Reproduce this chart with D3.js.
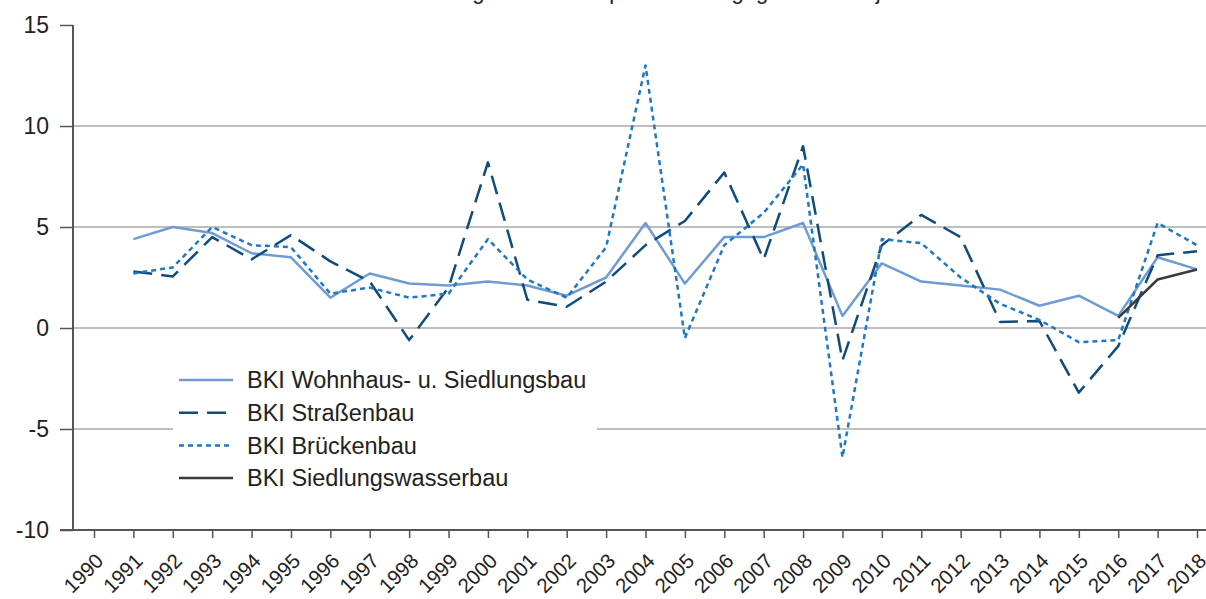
<!DOCTYPE html>
<html>
<head>
<meta charset="utf-8">
<script src="https://cdn.jsdelivr.net/npm/d3@7"></script>
<style>
  body { margin: 0; background: #fff; }
  svg { display: block; font-family: "Liberation Sans", Arial, sans-serif; }
</style>
</head>
<body>
<div id="chart"></div>
<script>
// years on the axis (1990 has no values)
var years = d3.range(1990, 2019);

var wohnhaus = [null, 4.4, 5.0, 4.7, 3.7, 3.5, 1.5, 2.7, 2.2, 2.1, 2.3, 2.1, 1.6, 2.5, 5.2, 2.2, 4.5, 4.5, 5.2, 0.6, 3.2, 2.3, 2.1, 1.9, 1.1, 1.6, 0.6, 3.5, 2.9];
var strassen = [null, 2.8, 2.55, 4.5, 3.4, 4.6, 3.3, 2.3, -0.6, 2.0, 8.2, 1.4, 1.05, 2.3, 4.1, 5.3, 7.7, 3.4, 9.0, -1.6, 4.1, 5.6, 4.5, 0.3, 0.35, -3.2, -0.9, 3.6, 3.8];
var bruecken = [null, 2.7, 3.0, 5.0, 4.1, 4.0, 1.7, 2.0, 1.5, 1.7, 4.4, 2.4, 1.5, 4.0, 13.0, -0.5, 4.1, 5.7, 8.1, -6.4, 4.4, 4.2, 2.5, 1.2, 0.4, -0.7, -0.6, 5.2, 4.1];
var wasser = [null, null, null, null, null, null, null, null, null, null, null, null, null, null, null, null, null, null, null, null, null, null, null, null, null, null, 0.5, 2.4, 2.9];

var yTicks = [-10, -5, 0, 5, 10, 15];
var gridValues = [10, 5, 0, -5];

var seriesNames = ["BKI Wohnhaus- u. Siedlungsbau", "BKI Straßenbau", "BKI Brückenbau", "BKI Siedlungswasserbau"];
var seriesColors = ["#6f9bd4", "#0f4c7c", "#1f78c2", "#3a3a3a"];
var seriesDash = [null, "19,9", "5,4", null];
var seriesData = [wohnhaus, strassen, bruecken, wasser];

var width = 1206, height = 599;

var svg = d3.select("#chart").append("svg")
    .attr("width", width)
    .attr("height", height);

var x = d3.scalePoint().domain(years).range([94, 1197]);
var y = d3.scaleLinear().domain([-10, 15]).range([530, 25]);

// title, cut off at the top edge like in the picture
svg.append("text")
    .attr("x", 660).attr("y", -1)
    .attr("text-anchor", "middle")
    .style("font-size", "22px")
    .style("fill", "#222")
    .text("Veränderung der BKI Baupreisindizes gegenüber Vorjahr in %");

// gridlines
svg.selectAll(".grid").data(gridValues).enter().append("line")
    .attr("class", "grid")
    .attr("x1", 73).attr("x2", width)
    .attr("y1", function(d){ return y(d); })
    .attr("y2", function(d){ return y(d); })
    .style("stroke", "#a8a8a8")
    .style("stroke-width", 1.5);

// y axis
var yAxis = svg.append("g")
    .attr("transform", "translate(73,0)")
    .call(d3.axisLeft(y).tickValues(yTicks).tickSize(13).tickSizeOuter(0).tickPadding(11)
        .tickFormat(function(d){ return String(d); }));
yAxis.select(".domain").remove();
yAxis.selectAll(".tick line").style("stroke", "#555").style("stroke-width", 1.5);
yAxis.selectAll(".tick text").style("font-size", "23px").style("fill", "#222")
    .style("font-family", "Liberation Sans, Arial, sans-serif");
svg.append("line").attr("x1", 73).attr("x2", 73).attr("y1", y(15)).attr("y2", y(-10))
    .style("stroke", "#555").style("stroke-width", 2);

// x axis
var xAxis = svg.append("g")
    .attr("transform", "translate(0," + y(-10) + ")")
    .call(d3.axisBottom(x).tickSize(8).tickSizeOuter(0));
xAxis.select(".domain").remove();
xAxis.selectAll(".tick line").style("stroke", "#555").style("stroke-width", 1.5);
xAxis.selectAll(".tick text")
    .style("font-size", "20.5px").style("fill", "#222")
    .style("font-family", "Liberation Sans, Arial, sans-serif")
    .attr("text-anchor", "end")
    .attr("x", 0).attr("y", 0)
    .attr("dy", "0.35em")
    .attr("transform", "translate(5,27) rotate(-45)");
svg.append("line").attr("x1", 60).attr("x2", width).attr("y1", y(-10)).attr("y2", y(-10))
    .style("stroke", "#555").style("stroke-width", 2);

// lines
var line = d3.line()
    .defined(function(d){ return d.v != null; })
    .x(function(d){ return x(d.year); })
    .y(function(d){ return y(d.v); });

seriesData.forEach(function(values, i){
    var pts = years.map(function(yr, k){ return {year: yr, v: values[k]}; });
    svg.append("path")
        .datum(pts)
        .attr("d", line)
        .style("fill", "none")
        .style("stroke", seriesColors[i])
        .style("stroke-width", 2.5)
        .style("stroke-dasharray", seriesDash[i])
        .style("stroke-linejoin", "round");
});

// legend with white box
var legend = svg.append("g");
legend.append("rect")
    .attr("x", 173).attr("y", 358).attr("width", 424).attr("height", 140)
    .style("fill", "#fff");

seriesNames.forEach(function(name, i){
    var ly = 380 + i * 32.7;
    legend.append("line")
        .attr("x1", 179).attr("x2", 233).attr("y1", ly).attr("y2", ly)
        .style("stroke", seriesColors[i])
        .style("stroke-width", 2.5)
        .style("stroke-dasharray", seriesDash[i]);
    legend.append("text")
        .attr("x", 247).attr("y", ly)
        .attr("dy", "0.35em")
        .style("font-size", "23.5px")
        .style("fill", "#222")
        .text(name);
});
</script>
</body>
</html>
